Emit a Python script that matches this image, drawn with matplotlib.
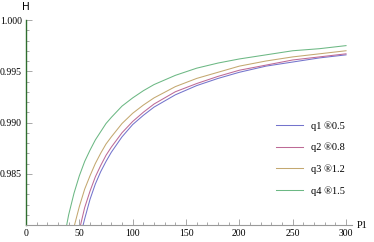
import matplotlib
matplotlib.use("Agg")
import matplotlib.pyplot as plt
from matplotlib.ticker import MultipleLocator

p1_q4 = [35, 40, 45, 50, 55, 60, 65, 70, 75, 80, 90, 100, 110, 120, 140, 160, 180, 200, 225, 250, 275, 300]
h_q4 = [0.9783, 0.9810, 0.9831, 0.9848, 0.9862, 0.9873, 0.9883, 0.9891, 0.9899, 0.9905, 0.9916,
        0.9924, 0.9931, 0.9937, 0.9946, 0.9953, 0.9958, 0.9962, 0.9966, 0.9970, 0.9972, 0.9975]

p1_q3 = [40, 45, 50, 55, 60, 65, 70, 75, 80, 90, 100, 110, 120, 140, 160, 180, 200, 225, 250, 275, 300]
h_q3 = [0.9772, 0.9798, 0.9818, 0.9835, 0.9848, 0.9860, 0.9870, 0.9879, 0.9886, 0.9899, 0.9909,
        0.9917, 0.9924, 0.9935, 0.9943, 0.9949, 0.9955, 0.9960, 0.9964, 0.9967, 0.9970]

p1_q12 = [45, 50, 55, 60, 65, 70, 75, 80, 90, 100, 110, 120, 140, 160, 180, 200, 225, 250, 275, 300]
h_q2 = [0.9772, 0.9795, 0.9817, 0.9833, 0.9847, 0.9858, 0.9868, 0.9876, 0.9890, 0.9901, 0.9910,
        0.9918, 0.9930, 0.9938, 0.9945, 0.9951, 0.9956, 0.9961, 0.9964, 0.9967]
h_q1 = [0.9762, 0.9785, 0.9806, 0.9825, 0.9840, 0.9852, 0.9862, 0.9871, 0.9886, 0.9898, 0.9907,
        0.9915, 0.9927, 0.9936, 0.9943, 0.9949, 0.9955, 0.9959, 0.9963, 0.9966]

labels = ["q1 \u00ae0.5", "q2 \u00ae0.8", "q3 \u00ae1.2", "q4 \u00ae1.5"]
colors = ["#7474cc", "#bd6a96", "#c4a870", "#6cb884"]

fig = plt.figure(figsize=(3.74, 2.42), dpi=100)
ax = fig.add_axes([26/374, 17/242, (352-26)/374, (225-20)/242])

series = [(p1_q12, h_q1), (p1_q12, h_q2), (p1_q3, h_q3), (p1_q4, h_q4)]
lines = []
for (x, y), c, lab in zip(series, colors, labels):
    ln, = ax.plot(x, y, color=c, lw=0.75, label=lab, solid_joinstyle="round")
    lines.append(ln)

ax.set_xlim(0, 305.6)
ax.set_ylim(0.980, 1.000)
ax.set_xticks([0, 50, 100, 150, 200, 250, 300])
ax.set_yticks([0.985, 0.990, 0.995, 1.000])
ax.set_yticklabels(["0.985", "0.990", "0.995", "1.000"])
ax.xaxis.set_minor_locator(MultipleLocator(10))
ax.yaxis.set_minor_locator(MultipleLocator(0.001))

for s in ["top", "right"]:
    ax.spines[s].set_visible(False)
ax.spines["left"].set_color("#2f6e2f")
ax.spines["left"].set_linewidth(1.0)
ax.spines["bottom"].set_color("#9a9a9a")
ax.spines["bottom"].set_linewidth(0.8)

ax.tick_params(axis="both", which="both", direction="in", colors="#9a9a9a",
               labelcolor="black", labelsize=7, width=0.6)
ax.tick_params(which="major", length=4, pad=3)
ax.tick_params(which="minor", length=2)
for t in ax.get_xticklabels() + ax.get_yticklabels():
    t.set_fontfamily("Liberation Serif")

fig.text(26/374, 1 - 7/242, "H", ha="center", va="center", fontsize=7.5,
         family="DejaVu Sans")
fig.text(362/374, 1 - 225/242, "P1", ha="center", va="center", fontsize=7.5,
         family="Liberation Serif")

leg = ax.legend(handles=lines, loc="upper left",
                bbox_to_anchor=((272-26)/326, 1 - (117-20)/205),
                frameon=False, handlelength=2.6, handletextpad=0.7,
                labelspacing=1.15, borderaxespad=0,
                prop={"family": "Liberation Serif", "size": 7.5})

fig.savefig("out.png", dpi=100)
